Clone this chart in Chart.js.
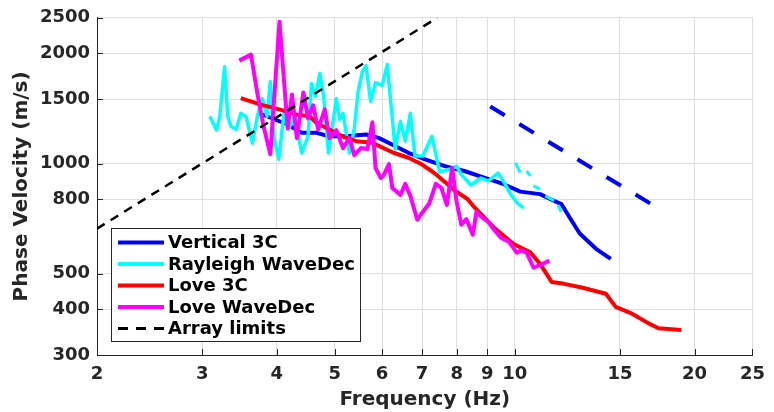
<!DOCTYPE html>
<html>
<head>
<meta charset="utf-8">
<script src="https://cdn.jsdelivr.net/npm/chart.js@4.4.0/dist/chart.umd.min.js"></script>
<style>
  html, body { margin: 0; padding: 0; background: #fff; }
</style>
</head>
<body>
<canvas id="dispersion" width="774" height="412"></canvas>
<script>
// axis ticks
const freqTicks = [2, 3, 4, 5, 6, 7, 8, 9, 10, 15, 20, 25];
const velTicks = [300, 400, 500, 800, 1000, 1500, 2000, 2500];

// Vertical 3C
const vert3cFreq = [3.73, 4.16, 4.40, 4.66, 4.89, 5.22, 5.64, 5.92, 6.27, 6.64, 7.08, 7.64, 8.24, 8.89, 9.59, 10.22, 11.03, 11.46, 11.97, 12.36, 12.84, 13.68, 14.48];
const vert3cVel = [1374, 1280, 1213, 1213, 1187, 1187, 1200, 1175, 1122, 1070, 1027, 984, 954, 915, 878, 838, 825, 800, 775, 712, 645, 585, 549];

// Rayleigh WaveDec
const rayFreq = [3.09, 3.17, 3.21, 3.27, 3.31, 3.35, 3.42, 3.48, 3.55, 3.64, 3.71, 3.78, 3.85, 3.90, 3.95, 4.03, 4.11, 4.18, 4.29, 4.40, 4.51, 4.57, 4.64, 4.72, 4.79, 4.88, 5.03, 5.09, 5.16, 5.29, 5.39, 5.47, 5.56, 5.64, 5.74, 5.85, 6.00, 6.12, 6.24, 6.31, 6.44, 6.56, 6.69, 6.81, 7.02, 7.27, 7.49, 7.81, 7.99, 8.15, 8.45, 8.78, 9.03, 9.38, 9.59, 9.84, 10.09, 10.35];
const rayVel = [1346, 1233, 1346, 1840, 1346, 1264, 1240, 1371, 1346, 1137, 1346, 1506, 1346, 1675, 1187, 1028, 1371, 1240, 1346, 1068, 1187, 1654, 1525, 1761, 1525, 1068, 1506, 1321, 1371, 1068, 1248, 1574, 1783, 1851, 1478, 1664, 1634, 1863, 1329, 1095, 1304, 1151, 1371, 1048, 1048, 1187, 948, 966, 984, 931, 874, 913, 896, 942, 891, 826, 781, 757];
// short broken pieces, two points each
const rayTailFreq = [10.03, 10.22, 10.47, 10.62, 10.75, 11.03, 11.25, 11.64, 11.82, 11.96];
const rayTailVel = [1005, 944, 954, 925, 869, 851, 816, 791, 771, 738];

// Love 3C
const love3cFreq = [3.48, 3.76, 4.05, 4.32, 4.54, 4.66, 4.90, 5.16, 5.43, 5.78, 6.27, 6.64, 6.99, 7.26, 7.44, 7.93, 8.34, 8.56, 9.23, 9.96, 10.62, 11.03, 11.53, 12.05, 13.00, 14.21, 14.76, 15.72, 16.76, 17.40, 19.01];
const love3cVel = [1509, 1448, 1403, 1360, 1346, 1290, 1238, 1185, 1151, 1139, 1070, 1037, 995, 954, 925, 845, 800, 760, 669, 603, 572, 532, 475, 470, 458, 441, 406, 389, 366, 355, 351];

// Love WaveDec
const loveWdFreq = [3.46, 3.62, 3.71, 3.80, 3.90, 4.04, 4.17, 4.24, 4.32, 4.43, 4.51, 4.60, 4.69, 4.81, 4.90, 5.03, 5.16, 5.29, 5.39, 5.53, 5.67, 5.78, 5.85, 5.97, 6.04, 6.16, 6.24, 6.44, 6.56, 6.69, 6.87, 7.00, 7.19, 7.38, 7.54, 7.70, 7.86, 7.99, 8.14, 8.30, 8.51, 8.63, 8.79, 9.03, 9.27, 9.48, 9.78, 10.08, 10.27, 10.47, 10.75, 11.08, 11.43];
const loveWdVel = [1910, 1983, 1554, 1264, 1061, 2437, 1248, 1544, 1173, 1564, 1329, 1442, 1240, 1406, 1173, 1233, 1102, 1173, 1054, 1102, 1095, 1296, 972, 913, 931, 997, 858, 821, 880, 816, 702, 734, 776, 880, 858, 771, 974, 791, 681, 705, 639, 738, 716, 693, 655, 627, 612, 571, 579, 571, 520, 530, 543];

// array limits and the upper vertical branch
const limFreq = [2, 7.42];
const limVel = [664, 2500];
const vertUpperFreq = [9.10, 16.86];
const vertUpperVel = [1432, 778];

const FONT = '"DejaVu Sans", "Liberation Sans", sans-serif';

function pts(fx, vy) {
  return fx.map((f, i) => ({ x: f, y: vy[i] }));
}

function pairs(fx, vy) {
  const out = [];
  for (let i = 0; i < fx.length; i += 2) {
    out.push({ x: fx[i], y: vy[i] }, { x: fx[i + 1], y: vy[i + 1] });
    if (i + 2 < fx.length) out.push({ x: (fx[i + 1] + fx[i + 2]) / 2, y: null });
  }
  return out;
}

function line(label, data, color, width, order, dash) {
  return {
    label: label,
    data: data,
    borderColor: color,
    backgroundColor: color,
    borderWidth: width,
    borderDash: dash || [],
    pointRadius: 0,
    tension: 0,
    spanGaps: false,
    borderJoinStyle: 'round',
    order: order
  };
}

// ticks pointing inward plus the boxed legend in the lower left
const axesExtras = {
  id: 'axesExtras',
  afterDraw(chart) {
    const { ctx, chartArea: a, scales: { x, y } } = chart;
    ctx.save();
    ctx.strokeStyle = '#262626';
    ctx.lineWidth = 1;
    ctx.beginPath();
    freqTicks.forEach(v => {
      const px = Math.round(x.getPixelForValue(v)) + 0.5;
      ctx.moveTo(px, a.bottom);
      ctx.lineTo(px, a.bottom - 6);
    });
    velTicks.forEach(v => {
      const py = Math.round(y.getPixelForValue(v)) + 0.5;
      ctx.moveTo(a.left, py);
      ctx.lineTo(a.left + 6, py);
    });
    ctx.stroke();

    const bx = a.left + 14, by = a.bottom - 127, bw = 249, bh = 113;
    ctx.fillStyle = '#fff';
    ctx.fillRect(bx, by, bw, bh);
    ctx.strokeStyle = '#262626';
    ctx.strokeRect(bx + 0.5, by + 0.5, bw, bh);

    const items = chart.data.datasets.filter(d => d.label);
    ctx.font = 'bold 18px ' + FONT;
    ctx.textBaseline = 'middle';
    items.forEach((d, i) => {
      const ry = by + 14.5 + i * 21.5;
      ctx.beginPath();
      ctx.strokeStyle = d.borderColor;
      ctx.lineWidth = d.borderDash.length ? 3 : 4;
      ctx.setLineDash(d.borderDash.length ? [10, 8] : []);
      ctx.moveTo(bx + 7, ry);
      ctx.lineTo(bx + 53, ry);
      ctx.stroke();
      ctx.setLineDash([]);
      ctx.fillStyle = '#000';
      ctx.fillText(d.label, bx + 57, ry + 1);
    });
    ctx.restore();
  }
};

const ctx = document.getElementById('dispersion').getContext('2d');

new Chart(ctx, {
  type: 'line',
  data: {
    datasets: [
      line('Vertical 3C', pts(vert3cFreq, vert3cVel), '#0000ff', 4, 6),
      line('Rayleigh WaveDec', pts(rayFreq, rayVel), '#00ffff', 3.5, 5),
      line('Love 3C', pts(love3cFreq, love3cVel), '#ff0000', 4, 3),
      line('Love WaveDec', pts(loveWdFreq, loveWdVel), '#ff00ff', 4, 2),
      line('Array limits', pts(limFreq, limVel), '#000000', 2.5, 0, [9, 7]),
      line('', pts(vertUpperFreq, vertUpperVel), '#0000ff', 4, 1, [17, 17]),
      line('', pairs(rayTailFreq, rayTailVel), '#00ffff', 3, 4)
    ]
  },
  options: {
    responsive: false,
    animation: false,
    layout: { padding: { top: 16, right: 12, left: 0, bottom: 0 } },
    plugins: {
      legend: { display: false },
      tooltip: { enabled: false }
    },
    scales: {
      x: {
        type: 'logarithmic',
        min: 2,
        max: 25,
        afterBuildTicks: s => { s.ticks = freqTicks.map(v => ({ value: v })); },
        afterFit: s => { s.height = 57; },
        ticks: {
          autoSkip: false,
          maxRotation: 0,
          padding: 9,
          color: '#262626',
          font: { family: FONT, size: 18, weight: 'bold' },
          callback: v => String(v)
        },
        grid: { color: '#dedede', drawTicks: false },
        border: { display: true, color: '#262626', width: 1 },
        title: {
          display: true,
          text: 'Frequency (Hz)',
          color: '#262626',
          font: { family: FONT, size: 20, weight: 'bold' },
          padding: { top: 3, bottom: 0 }
        }
      },
      y: {
        type: 'logarithmic',
        min: 300,
        max: 2500,
        afterBuildTicks: s => { s.ticks = velTicks.map(v => ({ value: v })); },
        afterFit: s => { s.width = 97; },
        ticks: {
          autoSkip: false,
          padding: 7,
          color: '#262626',
          font: { family: FONT, size: 18, weight: 'bold' },
          callback: v => String(v)
        },
        grid: { color: '#dedede', drawTicks: false },
        border: { display: true, color: '#262626', width: 1 },
        title: {
          display: true,
          text: 'Phase Velocity (m/s)',
          color: '#262626',
          font: { family: FONT, size: 20, weight: 'bold' },
          padding: { top: 10, bottom: 0 }
        }
      }
    }
  },
  plugins: [axesExtras]
});
</script>
</body>
</html>
